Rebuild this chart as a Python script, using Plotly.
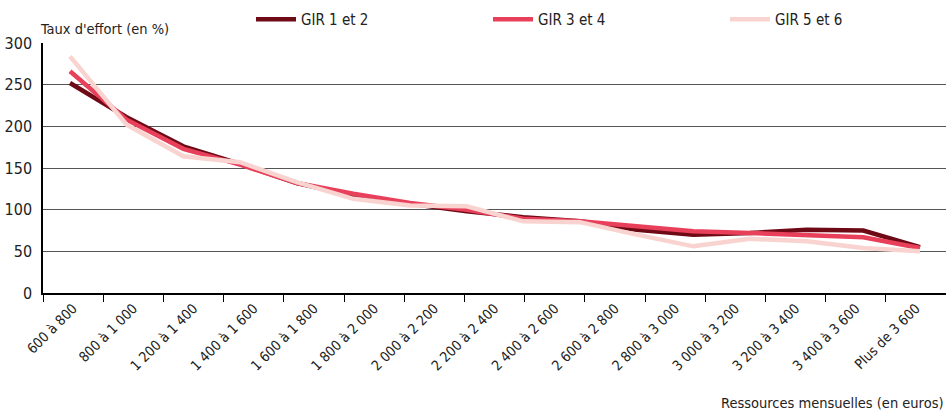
import plotly.graph_objects as go

# Axis categories (as labelled in the reference)
categories = ["600 à 800", "800 à 1 000", "1 200 à 1 400", "1 400 à 1 600", "1 600 à 1 800",
              "1 800 à 2 000", "2 000 à 2 200", "2 200 à 2 400", "2 400 à 2 600", "2 600 à 2 800",
              "2 800 à 3 000", "3 000 à 3 200", "3 200 à 3 400", "3 400 à 3 600", "Plus de 3 600"]

# Series points (16 points drawn evenly across the plot)
point_index = list(range(16))
gir_12 = [252, 211, 176, 155, 132, 117, 107, 98, 91, 86, 76, 70, 72, 76, 75, 55]
gir_34 = [266, 208, 173, 154, 132, 119, 108, 100, 89, 86, 80, 74, 72, 70, 67, 54]
gir_56 = [284, 202, 164, 157, 133, 113, 105, 104, 86, 85, 70, 56, 65, 62, 54, 50]

series_names = ["GIR 1 et 2", "GIR 3 et 4", "GIR 5 et 6"]
series_values = [gir_12, gir_34, gir_56]
colors = ["#6e0a16", "#e8405a", "#f9d3cf"]

y_ticks = [0, 50, 100, 150, 200, 250, 300]

FONT = "Liberation Sans Narrow, DejaVu Sans Condensed, Roboto, sans-serif"

W, H = 946, 413
L, R, T, B = 43, 0, 43, 120
pw = W - L - R
ph = H - T - B

fig = go.Figure()

# invisible trace establishing the category axis
fig.add_trace(go.Scatter(x=categories, y=[None] * len(categories), xaxis="x", yaxis="y",
                         mode="lines", showlegend=False, hoverinfo="skip"))

for name, vals, col in zip(series_names, series_values, colors):
    fig.add_trace(go.Scatter(x=point_index, y=vals, name=name, xaxis="x2", yaxis="y",
                             mode="lines", line=dict(color=col, width=4.5)))

# pixel mapping of first and last point
first_px, last_px = 70 - L, 920 - L
upp = (len(point_index) - 1) / (last_px - first_px)
x2_range = [0 - first_px * upp, (len(point_index) - 1) + (pw - last_px) * upp]

fig.update_layout(
    width=W, height=H,
    margin=dict(l=L, r=R, t=T, b=B, autoexpand=False),
    plot_bgcolor="white", paper_bgcolor="white",
    font=dict(family=FONT, size=15, color="#222"),
    showlegend=True,
    legend=dict(orientation="h", x=(251 - L) / pw, xanchor="left", y=1 + (T - 3) / ph, yanchor="top",
                entrywidth=182, entrywidthmode="pixels", font=dict(size=15, family=FONT),
                bgcolor="rgba(0,0,0,0)", itemwidth=40),
    xaxis=dict(type="category", categoryorder="array", categoryarray=categories,
               range=[-0.5, len(categories) - 0.5], tickson="boundaries", ticks="outside",
               ticklen=7, tickcolor="black", tickwidth=1, tickangle=-45, automargin=False,
               showline=True, linecolor="black", linewidth=1.5, showgrid=False,
               tickfont=dict(size=14, family=FONT, color="#222"), fixedrange=True),
    xaxis2=dict(overlaying="x", range=x2_range, visible=False, showgrid=False, zeroline=False),
    yaxis=dict(range=[0, 300], tickvals=y_ticks, showgrid=True, gridcolor="#555", gridwidth=1.3,
               showline=True, linecolor="black", linewidth=1.5, zeroline=False, ticks="",
               automargin=False, ticklabelstandoff=6,
               tickfont=dict(size=16, family=FONT, color="#222")),
    annotations=[
        dict(text="Taux d'effort (en %)", xref="paper", yref="paper", x=(38 - L) / pw,
             y=(293 - 29) / ph, xanchor="left", yanchor="middle", showarrow=False,
             font=dict(size=14.5, family=FONT, color="#222")),
        dict(text="Ressources mensuelles (en euros)", xref="paper", yref="paper", x=1,
             y=(293 - 403) / ph, xanchor="right", yanchor="middle", showarrow=False,
             font=dict(size=14.5, family=FONT, color="#222")),
    ],
)

fig.write_html("out.html", config={"displayModeBar": False},
               post_script="document.body.style.margin='0';document.body.style.overflow='hidden';")
